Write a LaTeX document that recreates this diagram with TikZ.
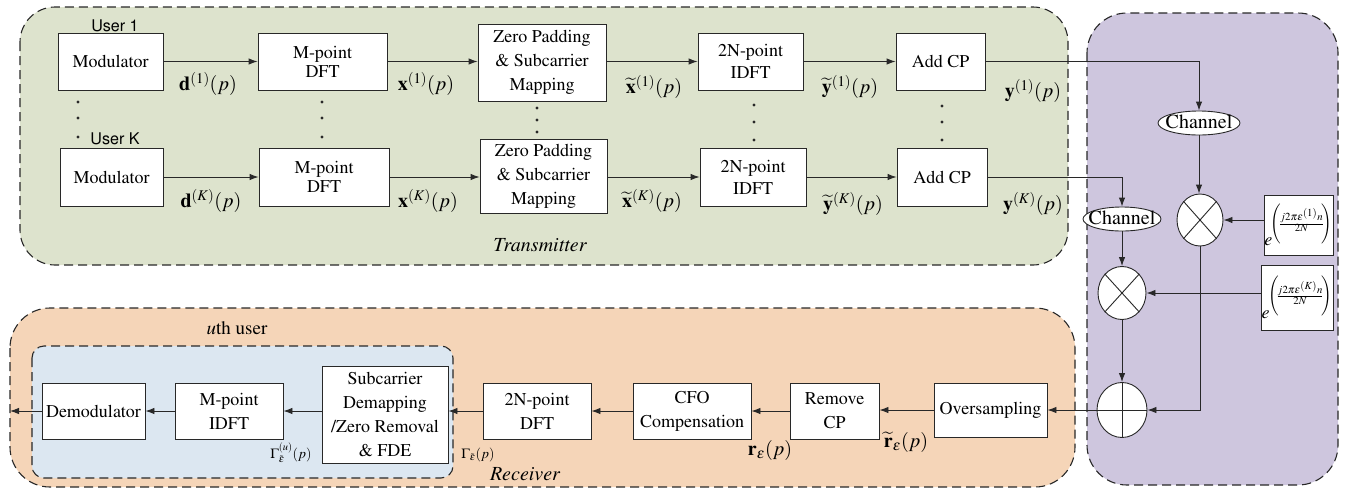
\documentclass[tikz,border=0pt]{standalone}
\usepackage[T1]{fontenc}
\usepackage{mathptmx}
\usepackage[scaled=0.92]{helvet}
\usetikzlibrary{arrows.meta,shapes.geometric}
\definecolor{txc}{RGB}{221,227,205}
\definecolor{chc}{RGB}{206,198,222}
\definecolor{rxc}{RGB}{245,213,184}
\definecolor{usc}{RGB}{220,231,241}
\definecolor{lc}{RGB}{40,40,40}
\newcommand{\expo}[1]{$e^{\mkern-2mu\left(\rule[-15pt]{0pt}{38pt}\mkern-3mu\frac{j2\pi\varepsilon^{(#1)}n}{2N}\mkern-3mu\right)}$}
\begin{document}
\begin{tikzpicture}[x=1pt,y=-1pt,
 blk/.style={draw=lc, fill=white, line width=0.9pt, align=center, inner sep=0pt, font=\fontsize{18}{24}\selectfont},
 arr/.style={draw=lc, line width=0.9pt, -{Latex[length=9pt,width=6.5pt]}},
 ln/.style={draw=lc, line width=0.9pt},
 lbl/.style={inner sep=0pt, font=\fontsize{20}{22}\selectfont},
 slbl/.style={inner sep=0pt, font=\fontsize{14}{16}\selectfont},
 region/.style={draw=lc, dash pattern=on 9pt off 5pt, line width=1.1pt},
 chan/.style={ellipse, draw=lc, fill=white, line width=0.9pt, inner ysep=0pt, inner xsep=-10pt, minimum height=24pt, text height=12pt, text depth=1pt, font=\fontsize{20}{21}\selectfont},
 op/.style={ellipse, draw=lc, fill=white, line width=0.9pt, inner sep=0pt},
 usr/.style={inner sep=0pt, font=\sffamily\fontsize{17.5}{19}\selectfont},
 ttl/.style={inner sep=0pt, font=\itshape\fontsize{20}{22}\selectfont}]
\useasboundingbox (0,0) rectangle (1347,488);
% regions
\draw[region, fill=txc, rounded corners=35pt] (20,7) rectangle (1068,265);
\draw[region, fill=chc, rounded corners=40pt] (1087,13) rectangle (1338,485);
\draw[region, fill=rxc, rounded corners=40pt] (10,308) rectangle (1075,487);
\draw[region, fill=usc, rounded corners=12pt] (32,346) rectangle (453,478);
% transmitter blocks
\node[blk, minimum width=105pt, minimum height=57pt] (mod1) at (110.5,61.5) {Modulator};
\node[blk, minimum width=103pt, minimum height=58pt] (modK) at (111.5,177) {Modulator};
\node[blk, minimum width=129pt, minimum height=57pt, font=\fontsize{18}{19}\selectfont] (dft1) at (322.5,61.5) {M-point\\DFT};
\node[blk, minimum width=130pt, minimum height=58pt, font=\fontsize{18}{19}\selectfont] (dftK) at (324,177) {M-point\\DFT};
\node[blk, minimum width=128pt, minimum height=77pt] (zp1) at (542,62.5) {Zero Padding\\\& Subcarrier\\Mapping};
\node[blk, minimum width=127pt, minimum height=74pt] (zpK) at (543.5,176) {Zero Padding\\\& Subcarrier\\Mapping};
\node[blk, minimum width=105pt, minimum height=57pt, font=\fontsize{18}{22}\selectfont] (idft1) at (750.5,61.5) {2N-point\\IDFT};
\node[blk, minimum width=106pt, minimum height=58pt, font=\fontsize{18}{22}\selectfont] (idftK) at (753,177) {2N-point\\IDFT};
\node[blk, minimum width=89pt, minimum height=57pt] (acp1) at (940.5,61.5) {Add CP};
\node[blk, minimum width=90pt, minimum height=58pt] (acpK) at (942,177) {Add CP};
% user labels and dots
\node[usr] (u1) at (115,26) {User 1};
\node[usr] (uK) at (115,139) {User K};
\foreach \x/\a/\b/\c in {78/102/118/137, 322/102/118/137, 537/108/120/132, 754/105/122/140, 942/106/122/140}{
  \fill[lc] (\x,\a) circle (1.6pt) (\x,\b) circle (1.6pt) (\x,\c) circle (1.6pt);
}
% transmitter arrows
\draw[arr] (mod1.east) -- (mod1.east -| dft1.west);
\draw[arr] (dft1.east) -- (dft1.east -| zp1.west);
\draw[arr] (zp1.east |- dft1.east) -- (dft1.east -| idft1.west);
\draw[arr] (idft1.east) -- (idft1.east -| acp1.west);
\draw[arr] (modK.east) -- (modK.east -| dftK.west);
\draw[arr] (dftK.east) -- (dftK.east -| zpK.west);
\draw[arr] (zpK.east |- dftK.east) -- (dftK.east -| idftK.west);
\draw[arr] (idftK.east) -- (idftK.east -| acpK.west);
% transmitter labels
\node[lbl] (ld1) at (208,84) {$\mathbf{d}^{(1)}(p)$};
\node[lbl] (ldK) at (211,201) {$\mathbf{d}^{(K)}(p)$};
\node[lbl] (lx1) at (426,84) {$\mathbf{x}^{(1)}(p)$};
\node[lbl] (lxK) at (428,201) {$\mathbf{x}^{(K)}(p)$};
\node[lbl] (ltx1) at (654,87) {$\widetilde{\mathbf{x}}^{(1)}(p)$};
\node[lbl] (ltxK) at (652,201) {$\widetilde{\mathbf{x}}^{(K)}(p)$};
\node[lbl] (lty1) at (850,87) {$\widetilde{\mathbf{y}}^{(1)}(p)$};
\node[lbl] (ltyK) at (853,204) {$\widetilde{\mathbf{y}}^{(K)}(p)$};
\node[lbl] (ly1) at (1033,91) {$\mathbf{y}^{(1)}(p)$};
\node[lbl] (lyK) at (1033,204) {$\mathbf{y}^{(K)}(p)$};
\node[ttl] (ttx) at (540,245) {Transmitter};
% channel part
\node[chan, minimum width=82pt] (ch1) at (1199,123) {Channel};
\node[chan, minimum width=78pt] (chK) at (1122,219) {Channel};
\node[op, minimum width=46pt, minimum height=52pt] (mul1) at (1200,220) {};
\node[op, minimum width=48pt, minimum height=53pt] (mulK) at (1122,293) {};
\node[op, minimum width=50pt, minimum height=55pt] (add) at (1122,410) {};
\draw[ln] (mul1.north east) -- (mul1.south west) (mul1.north west) -- (mul1.south east);
\draw[ln] (mulK.north east) -- (mulK.south west) (mulK.north west) -- (mulK.south east);
\draw[ln] (add.north) -- (add.south) (add.west) -- (add.east);
\node[blk, minimum width=69pt, minimum height=60pt, font=\fontsize{18}{20}\selectfont] (exp1) at (1298.5,225) {\expo{1}};
\node[blk, minimum width=72pt, minimum height=65pt, font=\fontsize{18}{20}\selectfont] (expK) at (1297,297.5) {\expo{K}};
\draw[arr] (acp1.east) -| (ch1.north);
\draw[arr] (acpK.east) -| (chK.north);
\draw[arr] (ch1.south) -- (ch1.south |- mul1.north);
\draw[arr] (chK.south) -- (chK.south |- mulK.north);
\draw[arr] (exp1.west |- mul1.east) -- (mul1.east);
\draw[arr] (expK.west |- mulK.east) -- (mulK.east);
\draw[arr] (mulK.south) -- (add.north);
\draw[arr] (mul1.south) |- (add.east);
% receiver blocks
\node[blk, minimum width=113pt, minimum height=54pt] (os) at (990.5,410) {Oversampling};
\node[blk, minimum width=89pt, minimum height=56pt] (rcp) at (834.5,411) {Remove\\CP};
\node[blk, minimum width=118pt, minimum height=56pt] (cfo) at (692,411) {CFO\\Compensation};
\node[blk, minimum width=108pt, minimum height=56pt] (dft2) at (537,411) {2N-point\\DFT};
\node[blk, minimum width=126pt, minimum height=97pt] (sub) at (385,414.5) {Subcarrier\\Demapping\\/Zero Removal\\\& FDE};
\node[blk, minimum width=108pt, minimum height=56pt] (idft2) at (229,411) {M-point\\IDFT};
\node[blk, minimum width=103pt, minimum height=56pt] (demod) at (93.5,411) {Demodulator};
\coordinate (out) at (10,411);
\draw[arr] (add.west) -- (add.west -| os.east);
\draw[arr] (os.west) -- (os.west -| rcp.east);
\draw[arr] (rcp.west) -- (rcp.west -| cfo.east);
\draw[arr] (cfo.west) -- (cfo.west -| dft2.east);
\draw[arr] (dft2.west) -- (dft2.west -| sub.east);
\draw[arr] (idft2.east -| sub.west) -- (idft2.east);
\draw[arr] (idft2.west) -- (demod.east);
\draw[arr] (demod.west) -- (out);
% receiver labels
\node[lbl] (lr1) at (906,442) {$\widetilde{\mathbf{r}}_{\varepsilon}(p)$};
\node[lbl] (lr2) at (770,450) {$\mathbf{r}_{\varepsilon}(p)$};
\node[slbl] (lg1) at (478,455) {$\Gamma_{\tilde{\varepsilon}}(p)$};
\node[slbl] (lg2) at (291,453) {$\Gamma^{(u)}_{\tilde{\varepsilon}}(p)$};
\node[ttl] (trx) at (525,474) {Receiver};
\node[inner sep=0pt, font=\fontsize{19}{21}\selectfont] (uth) at (237,328) {\textit{u}th user};
\end{tikzpicture}
\end{document}
